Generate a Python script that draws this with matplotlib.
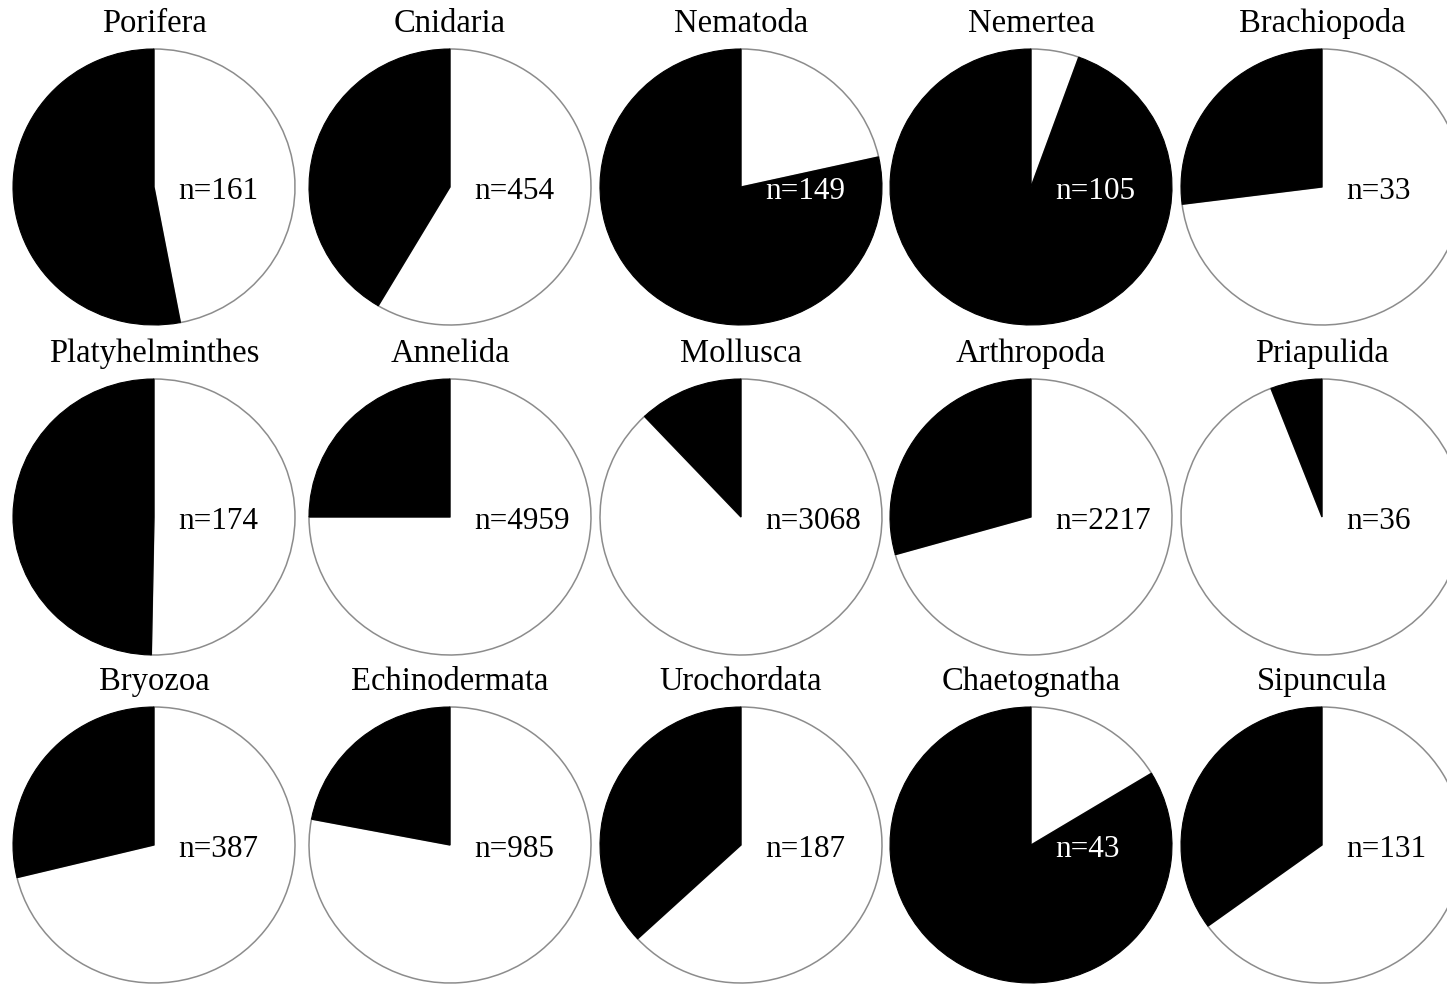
import matplotlib
matplotlib.use('Agg')
import matplotlib.pyplot as plt

# phyla in reading order (3 rows x 5 columns)
taxa = ['Porifera', 'Cnidaria', 'Nematoda', 'Nemertea', 'Brachiopoda',
        'Platyhelminthes', 'Annelida', 'Mollusca', 'Arthropoda', 'Priapulida',
        'Bryozoa', 'Echinodermata', 'Urochordata', 'Chaetognatha', 'Sipuncula']
n_species = [161, 454, 149, 105, 33,
             174, 4959, 3068, 2217, 36,
             387, 985, 187, 43, 131]
# fraction in the black sector
black_frac = [0.53, 0.415, 0.785, 0.945, 0.27,
              0.497, 0.25, 0.12, 0.294, 0.059,
              0.288, 0.22, 0.369, 0.837, 0.35]

W, H = 1447, 984
col_x = [154, 450, 741, 1031, 1322]
row_y = [187, 517, 845]
rx, ry = 141, 138

plt.rcParams['font.family'] = ['Liberation Serif', 'DejaVu Serif']
fig = plt.figure(figsize=(W / 100, H / 100), dpi=100)
fig.patch.set_facecolor('white')

for k, (name, n, frac) in enumerate(zip(taxa, n_species, black_frac)):
    cx = col_x[k % 5]
    cy = row_y[k // 5]
    ax = fig.add_axes([(cx - rx) / W, (H - cy - ry) / H, 2 * rx / W, 2 * ry / H])
    wedges, _ = ax.pie([frac, 1 - frac], colors=['black', 'white'], startangle=90,
                       counterclock=True, radius=1.0, frame=True)
    wedges[0].set_edgecolor('black')
    wedges[0].set_linewidth(0.8)
    wedges[0].set_zorder(3)
    wedges[1].set_edgecolor('#8c8c8c')
    wedges[1].set_linewidth(1.1)
    wedges[1].set_zorder(2)
    ax.set_aspect('auto')
    ax.set_xlim(-1.0, 1.0)
    ax.set_ylim(-1.0, 1.0)
    ax.axis('off')

    txt_col = 'white' if frac > 0.7 else 'black'
    ax.text(0.17, -0.03, 'n=%d' % n, ha='left', va='center', fontsize=22.5,
            color=txt_col, zorder=5)
    ax.text(0.0, 1.185, name, ha='center', va='center', fontsize=23.5,
            color='black', clip_on=False)

fig.savefig('out.png', dpi=100, facecolor='white')
